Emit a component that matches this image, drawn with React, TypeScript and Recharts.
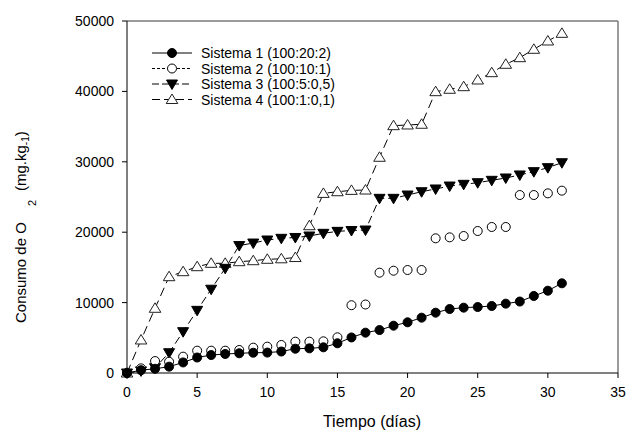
import React from "react";
import { LineChart, Line, XAxis, YAxis, ReferenceLine } from "recharts";

const FONT = "'Liberation Sans', Arial, sans-serif";

const days = [
  0, 1, 2, 3, 4, 5, 6, 7, 8, 9, 10, 11, 12, 13, 14, 15, 16, 17, 18, 19, 20,
  21, 22, 23, 24, 25, 26, 27, 28, 29, 30, 31,
];

const sistema1 = [
  0, 400, 600, 900, 1500, 2200, 2550, 2700, 2800, 2880, 2900, 3050, 3450, 3500,
  3650, 4220, 5050, 5730, 6100, 6720, 7200, 7860, 8570, 9090, 9280, 9375, 9520,
  9850, 10150, 10940, 11690, 12740,
];
const sistema2 = [
  0, 660, 1700, 1600, 2320, 3170, 3170, 3170, 3270, 3600, 3740, 3980, 4450,
  4450, 4500, 5070, 9630, 9730, 14250, 14530, 14630, 14630, 19130, 19270, 19460,
  20170, 20740, 20740, 25280, 25280, 25520, 25900,
];
const sistema3 = [
  0, 300, 750, 2880, 5870, 8900, 11900, 14870, 18100, 18460, 18890, 19130,
  19250, 19460, 19840, 20120, 20240, 20310, 24810, 24810, 25280, 25750, 26140,
  26560, 26800, 27030, 27370, 27700, 28130, 28600, 29170, 29870,
];
const sistema4 = [
  0, 4690, 9190, 13680, 14390, 15100, 15580, 15580, 15810, 15950, 16150, 16220,
  16400, 20920, 25510, 25750, 25940, 25990, 30640, 35130, 35230, 35330, 39960,
  40300, 40670, 41620, 42660, 43850, 44790, 45980, 47160, 48250,
];

const xTicks = [0, 5, 10, 15, 20, 25, 30, 35];
const yTicks = [0, 10000, 20000, 30000, 40000, 50000];

const legendNames = [
  "Sistema 1 (100:20:2)",
  "Sistema 2 (100:10:1)",
  "Sistema 3 (100:5:0,5)",
  "Sistema 4 (100:1:0,1)",
];

const data = days.map((d, i) => ({
  day: d,
  s1: sistema1[i],
  s2: sistema2[i],
  s3: sistema3[i],
  s4: sistema4[i],
}));

type Kind = "circleFilled" | "circleOpen" | "triDown" | "triUp";

function Marker({ cx, cy, kind }: { cx: number; cy: number; kind: Kind }) {
  if (cx == null || cy == null) return null;
  if (kind === "circleFilled")
    return <circle cx={cx} cy={cy} r={4.5} fill="#000" stroke="#000" strokeWidth={1} />;
  if (kind === "circleOpen")
    return <circle cx={cx} cy={cy} r={4.5} fill="#fff" stroke="#000" strokeWidth={1} />;
  if (kind === "triDown")
    return (
      <path
        d={`M${cx - 5.5},${cy - 4} L${cx + 5.5},${cy - 4} L${cx},${cy + 5.5} Z`}
        fill="#000"
        stroke="#000"
        strokeWidth={1}
      />
    );
  return (
    <path
      d={`M${cx},${cy - 5.5} L${cx + 5.8},${cy + 4} L${cx - 5.8},${cy + 4} Z`}
      fill="#fff"
      stroke="#222"
      strokeWidth={1}
    />
  );
}

const dotFor = (kind: Kind) => (props: any) => (
  <Marker key={`${kind}-${props.index}`} cx={props.cx} cy={props.cy} kind={kind} />
);

const legendRows: { kind: Kind; dash: string | undefined }[] = [
  { kind: "circleFilled", dash: undefined },
  { kind: "circleOpen", dash: "3 2" },
  { kind: "triDown", dash: "7 3" },
  { kind: "triUp", dash: "8 4" },
];

// legend drawn as an overlay so it doesn't shrink the plot area
function LegendBox() {
  return (
    <svg
      width={240}
      height={70}
      style={{ position: "absolute", left: 145, top: 44, display: "block" }}
    >
      {legendRows.map((row, i) => {
        const y = 9 + i * 15.5;
        return (
          <g key={i}>
            <line
              x1={7}
              x2={47}
              y1={y}
              y2={y}
              stroke="#000"
              strokeWidth={1}
              strokeDasharray={row.dash}
            />
            <Marker cx={27} cy={y} kind={row.kind} />
            <text x={56} y={y + 5} fontSize={14} fontFamily={FONT} fill="#000">
              {legendNames[i]}
            </text>
          </g>
        );
      })}
    </svg>
  );
}

function YTitle() {
  const x = 26;
  const y = 323;
  return (
    <text
      x={x}
      y={y}
      transform={`rotate(-90, ${x}, ${y})`}
      fontSize={15}
      fontFamily={FONT}
      fill="#000"
    >
      Consumo de O
      <tspan dx={16} dy={10} fontSize={11}>
        2
      </tspan>
      <tspan dx={9} dy={-10}>
        (mg.kg
      </tspan>
      <tspan dy={3} fontSize={10}>
        -1
      </tspan>
      <tspan dy={-3}>)</tspan>
    </text>
  );
}

function XTitle() {
  return (
    <text x={372} y={427} textAnchor="middle" fontSize={16} fontFamily={FONT} fill="#000">
      Tiempo (días)
    </text>
  );
}

export default function App() {
  const tick = { fill: "#000", fontSize: 14, fontFamily: FONT };
  return (
    <div style={{ position: "absolute", left: 0, top: 0, background: "#fff" }}>
      <LineChart
        width={626}
        height={430}
        data={data}
        margin={{ top: 21, right: 8, bottom: 0, left: 0 }}
      >
        <XAxis
          type="number"
          dataKey="day"
          domain={[0, 35]}
          ticks={xTicks}
          interval={0}
          height={57}
          tick={tick}
          tickSize={5}
          tickMargin={9}
          stroke="#000"
          axisLine={{ stroke: "#000" }}
          tickLine={{ stroke: "#000" }}
          label={{ content: () => <XTitle /> }}
        />
        <YAxis
          type="number"
          domain={[0, 50000]}
          ticks={yTicks}
          interval={0}
          width={127}
          tick={tick}
          tickSize={5}
          tickMargin={8}
          stroke="#000"
          axisLine={{ stroke: "#000" }}
          tickLine={{ stroke: "#000" }}
          label={{ content: () => <YTitle /> }}
        />
        <ReferenceLine y={50000} stroke="#7a7a7a" strokeWidth={1.5} />
        <ReferenceLine x={35} stroke="#7a7a7a" strokeWidth={1.5} />
        <Line
          dataKey="s4"
          name={legendNames[3]}
          stroke="#000"
          strokeWidth={1}
          strokeDasharray="9 5"
          dot={dotFor("triUp")}
          activeDot={false}
          isAnimationActive={false}
        />
        <Line
          dataKey="s3"
          name={legendNames[2]}
          stroke="#000"
          strokeWidth={1}
          strokeDasharray="8 4"
          dot={dotFor("triDown")}
          activeDot={false}
          isAnimationActive={false}
        />
        <Line
          dataKey="s2"
          name={legendNames[1]}
          stroke="none"
          dot={dotFor("circleOpen")}
          activeDot={false}
          isAnimationActive={false}
        />
        <Line
          dataKey="s1"
          name={legendNames[0]}
          stroke="#000"
          strokeWidth={1}
          dot={dotFor("circleFilled")}
          activeDot={false}
          isAnimationActive={false}
        />
      </LineChart>
      <LegendBox />
    </div>
  );
}
